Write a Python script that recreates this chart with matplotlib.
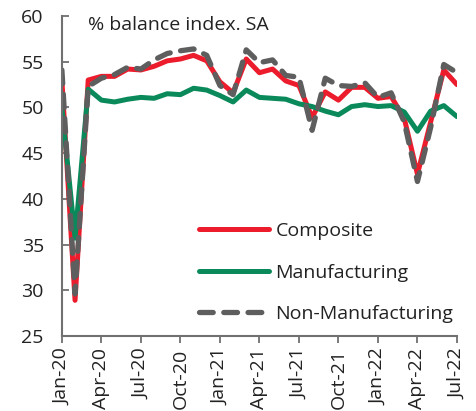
import matplotlib
matplotlib.use("Agg")
import matplotlib.pyplot as plt

plt.rcParams['font.family'] = ['Open Sans', 'DejaVu Sans']

months = ["Jan-20", "Feb-20", "Mar-20", "Apr-20", "May-20", "Jun-20", "Jul-20", "Aug-20",
          "Sep-20", "Oct-20", "Nov-20", "Dec-20", "Jan-21", "Feb-21", "Mar-21", "Apr-21",
          "May-21", "Jun-21", "Jul-21", "Aug-21", "Sep-21", "Oct-21", "Nov-21", "Dec-21",
          "Jan-22", "Feb-22", "Mar-22", "Apr-22", "May-22", "Jun-22", "Jul-22"]

composite = [53.0, 28.9, 53.0, 53.4, 53.4, 54.2, 54.1, 54.5, 55.1, 55.3, 55.7, 55.1,
             52.8, 51.6, 55.3, 53.8, 54.2, 52.9, 52.4, 48.9, 51.7, 50.8, 52.2, 52.2,
             51.0, 51.2, 48.8, 42.7, 48.4, 54.1, 52.5]
manufacturing = [50.0, 35.7, 52.0, 50.8, 50.6, 50.9, 51.1, 51.0, 51.5, 51.4, 52.1, 51.9,
                 51.3, 50.6, 51.9, 51.1, 51.0, 50.9, 50.4, 50.1, 49.6, 49.2, 50.1, 50.3,
                 50.1, 50.2, 49.5, 47.4, 49.6, 50.2, 49.0]
non_manufacturing = [54.1, 29.6, 52.3, 53.2, 53.6, 54.4, 54.2, 55.2, 55.9, 56.2, 56.4, 55.7,
                     52.4, 51.4, 56.3, 54.9, 55.2, 53.5, 53.3, 47.5, 53.2, 52.4, 52.3, 52.7,
                     51.1, 51.6, 48.4, 41.9, 47.8, 54.7, 53.8]

tick_step = 3
yticks = [25, 30, 35, 40, 45, 50, 55, 60]

fig = plt.figure(figsize=(4.76, 4.11), dpi=100)
ax = fig.add_axes([0.130, 0.1825, 0.830, 0.7785])

x = list(range(len(months)))
ax.plot(x, composite, color="#EC1C2D", lw=3.6, solid_capstyle="round", label="Composite")
ax.plot(x, manufacturing, color="#0A8A5B", lw=3.6, solid_capstyle="round", label="Manufacturing")
ax.plot(x, non_manufacturing, color="#5E5E5E", lw=3.8, linestyle=(0, (2.6, 2.0)),
        dash_capstyle="round", label="Non-Manufacturing")

ax.set_xlim(0, len(months) - 1)
ax.set_ylim(25, 60)
ax.set_yticks(yticks)
ax.set_xticks(x[::tick_step])
ax.set_xticklabels(months[::tick_step], rotation=90)

for s in ["top", "right"]:
    ax.spines[s].set_visible(False)
for s in ["left", "bottom"]:
    ax.spines[s].set_color("#707070")
    ax.spines[s].set_linewidth(1.5)

ax.tick_params(axis="y", direction="in", length=5, width=1.3, color="#707070",
               labelsize=14, pad=13, labelcolor="#222222")
ax.tick_params(axis="x", direction="out", length=5, width=1.3, color="#707070",
               labelsize=14, pad=4, labelcolor="#222222")

# subtitle placed in figure coords
fig.text(88 / 476, 1 - 25 / 411, "% balance index. SA", fontsize=14, color="#222222",
         va="center", ha="left")

leg = ax.legend(loc="lower right", bbox_to_anchor=(1.02, 0.004), frameon=False,
                fontsize=14, handlelength=3.6, handletextpad=0.35, labelspacing=1.21,
                borderaxespad=0.2, labelcolor="#222222")

fig.savefig("out.png", dpi=100)
